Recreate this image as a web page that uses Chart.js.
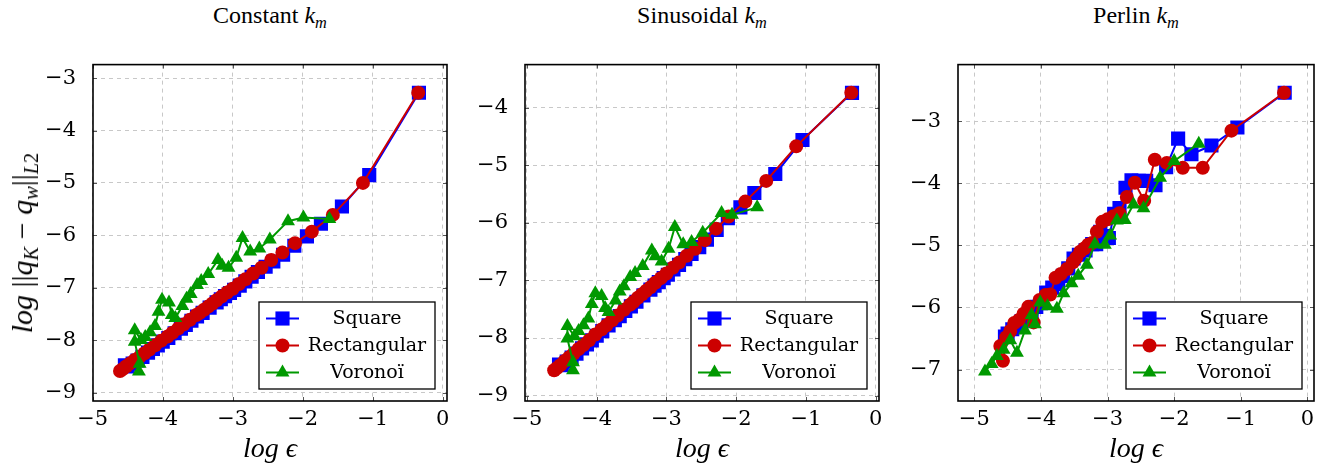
<!DOCTYPE html>
<html>
<head>
<meta charset="utf-8">
<script src="https://cdn.jsdelivr.net/npm/chart.js@4.4.0/dist/chart.umd.min.js"></script>
<style>
    body { margin: 0; background: #fff; width: 1330px; height: 471px; position: relative; overflow: hidden; font-family: "Liberation Serif", serif; color: #000; }
    canvas { position: absolute; }
    .title { position: absolute; top: 2px; font-size: 24px; line-height: 26px; white-space: nowrap; transform: translateX(-50%); }
    .xlab { position: absolute; top: 434px; font-size: 28px; line-height: 28px; font-style: italic; white-space: nowrap; transform: translateX(-50%); }
    .ylab { position: absolute; left: 22px; top: 243px; font-size: 30px; line-height: 30px; white-space: nowrap; transform: translate(-50%, -50%) rotate(-90deg); }
    sub { font-size: 0.68em; vertical-align: -0.3em; line-height: 0; }
</style>
</head>
<body>

<div class="title" style="left:270px">Constant <i>k<sub>m</sub></i></div>
<div class="title" style="left:702px">Sinusoidal <i>k<sub>m</sub></i></div>
<div class="title" style="left:1136px">Perlin <i>k<sub>m</sub></i></div>

<canvas id="chart1" width="436" height="406" style="left:23px;top:35px"></canvas>
<canvas id="chart2" width="436" height="406" style="left:455px;top:35px"></canvas>
<canvas id="chart3" width="438" height="406" style="left:888px;top:35px"></canvas>

<div class="ylab"><i>log</i> ||<i>q<sub>K</sub></i> &minus; <i>q<sub>w</sub></i>||<sub><i>L</i>2</sub></div>
<div class="xlab" style="left:270px">log &#1013;</div>
<div class="xlab" style="left:702px">log &#1013;</div>
<div class="xlab" style="left:1136px">log &#1013;</div>

<script>
// log(eps) of the meshes, shared by the three k_m cases
const squareLogEps = [-0.34, -1.05, -1.44, -1.74, -1.94, -2.12, -2.28, -2.42, -2.53, -2.64, -2.73, -2.82, -2.90, -2.98, -3.04, -3.11, -3.17, -3.23, -3.33, -3.43, -3.51, -3.59, -3.67, -3.74, -3.83, -3.92, -4.00, -4.07, -4.14, -4.21, -4.29, -4.36, -4.43, -4.50, -4.54];
const rectLogEps = [-0.35, -1.14, -1.57, -1.87, -2.11, -2.29, -2.45, -2.59, -2.71, -2.82, -2.91, -3.00, -3.08, -3.16, -3.23, -3.29, -3.35, -3.41, -3.47, -3.52, -3.61, -3.70, -3.78, -3.86, -3.93, -4.02, -4.11, -4.19, -4.26, -4.33, -4.40, -4.46, -4.52, -4.57, -4.61];

// Constant k_m
const constSquareErr = [-3.28, -4.85, -5.45, -5.78, -6.02, -6.20, -6.37, -6.50, -6.60, -6.70, -6.79, -6.88, -6.96, -7.04, -7.10, -7.16, -7.22, -7.28, -7.38, -7.48, -7.55, -7.63, -7.71, -7.78, -7.87, -7.96, -8.03, -8.10, -8.17, -8.24, -8.32, -8.39, -8.45, -8.50, -8.48];
const constRectErr = [-3.28, -5.00, -5.61, -5.93, -6.15, -6.33, -6.47, -6.62, -6.73, -6.84, -6.93, -7.02, -7.09, -7.17, -7.24, -7.30, -7.36, -7.42, -7.48, -7.52, -7.61, -7.70, -7.78, -7.86, -7.93, -8.01, -8.10, -8.18, -8.25, -8.32, -8.38, -8.44, -8.50, -8.55, -8.59];
const constVorLogEps = [-1.62, -1.99, -2.21, -2.47, -2.62, -2.75, -2.86, -2.95, -3.06, -3.15, -3.21, -3.35, -3.45, -3.51, -3.60, -3.66, -3.72, -3.82, -3.87, -3.91, -4.01, -4.06, -4.11, -4.18, -4.25, -4.31, -4.40, -4.40, -4.33, -4.34];
const constVorErr = [-5.69, -5.66, -5.73, -6.08, -6.25, -6.31, -6.05, -6.43, -6.62, -6.58, -6.47, -6.74, -6.87, -6.95, -7.12, -7.21, -7.35, -7.58, -7.52, -7.28, -7.23, -7.46, -7.73, -7.85, -7.94, -8.00, -7.81, -8.03, -8.45, -8.60];

// Sinusoidal k_m
const sinSquareErr = [-3.74, -4.56, -5.15, -5.48, -5.73, -5.92, -6.12, -6.29, -6.42, -6.54, -6.63, -6.73, -6.81, -6.90, -6.96, -7.03, -7.09, -7.16, -7.26, -7.37, -7.45, -7.53, -7.62, -7.69, -7.78, -7.88, -7.96, -8.04, -8.11, -8.18, -8.27, -8.34, -8.41, -8.47, -8.46];
const sinRectErr = [-3.74, -4.67, -5.27, -5.63, -5.89, -6.10, -6.30, -6.45, -6.57, -6.69, -6.78, -6.88, -6.96, -7.04, -7.12, -7.18, -7.24, -7.30, -7.37, -7.42, -7.51, -7.61, -7.69, -7.78, -7.85, -7.94, -8.04, -8.12, -8.19, -8.27, -8.34, -8.40, -8.47, -8.52, -8.56];
const sinVorLogEps = [-1.70, -2.06, -2.21, -2.48, -2.64, -2.76, -2.88, -2.97, -3.07, -3.16, -3.21, -3.34, -3.45, -3.52, -3.61, -3.67, -3.73, -3.83, -3.88, -3.93, -4.02, -4.07, -4.12, -4.19, -4.26, -4.32, -4.42, -4.42, -4.34, -4.34];
const sinVorErr = [-5.73, -5.86, -5.83, -6.17, -6.33, -6.37, -6.07, -6.45, -6.67, -6.58, -6.48, -6.75, -6.87, -6.94, -7.10, -7.19, -7.35, -7.55, -7.48, -7.27, -7.22, -7.41, -7.66, -7.78, -7.88, -7.97, -7.79, -8.01, -8.42, -8.56];

// Perlin k_m
const perlinSquareErr = [-2.54, -3.10, -3.39, -3.53, -3.28, -3.74, -4.03, -3.96, -3.96, -3.95, -4.07, -4.40, -4.49, -4.88, -4.85, -4.78, -4.98, -4.98, -5.08, -5.15, -5.21, -5.37, -5.49, -5.62, -5.68, -5.76, -5.93, -5.99, -6.10, -6.15, -6.22, -6.30, -6.35, -6.42, -6.47];
const perlinRectErr = [-2.54, -3.15, -3.75, -3.75, -3.67, -3.62, -4.28, -3.99, -4.22, -4.48, -4.53, -4.58, -4.62, -4.78, -4.96, -4.99, -5.05, -5.10, -5.20, -5.27, -5.38, -5.46, -5.52, -5.79, -5.80, -5.88, -6.24, -5.99, -6.10, -6.20, -6.25, -6.38, -6.48, -6.86, -6.62];
const perlinVorLogEps = [-1.63, -2.00, -2.21, -2.46, -2.61, -2.74, -2.86, -2.96, -3.04, -3.19, -3.31, -3.44, -3.54, -3.66, -3.76, -3.90, -4.01, -4.09, -4.14, -4.24, -4.36, -4.46, -4.56, -4.66, -4.74, -4.84];
const perlinVorErr = [-3.36, -3.64, -3.91, -4.40, -4.34, -4.59, -4.60, -4.84, -4.99, -4.98, -5.31, -5.49, -5.61, -5.77, -6.02, -5.98, -5.92, -6.27, -6.12, -6.37, -6.73, -6.53, -6.68, -6.78, -6.91, -7.03];

const seriesNames = ["Square", "Rectangular", "Voronoï"];
const xTicks = [-5, -4, -3, -2, -1, 0];
const constYTicks = [-9, -8, -7, -6, -5, -4, -3];
const sinYTicks = [-9, -8, -7, -6, -5, -4];
const perlinYTicks = [-7, -6, -5, -4, -3];

const markStyles = [
    { color: '#0000ff', shape: 'rect', radius: 10 },
    { color: '#cc0000', shape: 'circle', radius: 7 },
    { color: '#009900', shape: 'triangle', radius: 8 }
];

// DejaVu Serif is the serif face the canvas picks up here
const canvasFamily = '"DejaVu Serif"';
const tickFont = { family: canvasFamily, size: 21 };
const legendFont = '19px ' + canvasFamily;

function toPoints(xs, ys) {
    return xs.map((x, i) => ({ x: x, y: ys[i] }));
}

function minusLabel(v) {
    return v < 0 ? '\u2212' + Math.abs(v) : String(v);
}

function drawMark(ctx, shape, r, x, y) {
    ctx.beginPath();
    if (shape === 'rect') {
        const h = r * Math.SQRT1_2;
        ctx.rect(x - h, y - h, 2 * h, 2 * h);
    } else if (shape === 'circle') {
        ctx.arc(x, y, r, 0, Math.PI * 2);
    } else {
        ctx.moveTo(x, y - r);
        ctx.lineTo(x + r * 0.866, y + r / 2);
        ctx.lineTo(x - r * 0.866, y + r / 2);
        ctx.closePath();
    }
    ctx.fill();
}

// box round the plot, small inner ticks and the legend inside the plot
const frameAndLegend = {
    id: 'frameAndLegend',
    afterDatasetsDraw(chart) {
        const ctx = chart.ctx;
        const a = chart.chartArea;
        const sx = chart.scales.x;
        const sy = chart.scales.y;

        ctx.save();
        ctx.strokeStyle = '#555';
        ctx.lineWidth = 1;
        ctx.beginPath();
        sx.ticks.forEach(t => {
            const px = Math.round(sx.getPixelForValue(t.value)) + 0.5;
            ctx.moveTo(px, a.bottom); ctx.lineTo(px, a.bottom - 4);
            ctx.moveTo(px, a.top); ctx.lineTo(px, a.top + 4);
        });
        sy.ticks.forEach(t => {
            const py = Math.round(sy.getPixelForValue(t.value)) + 0.5;
            ctx.moveTo(a.left, py); ctx.lineTo(a.left + 4, py);
            ctx.moveTo(a.right, py); ctx.lineTo(a.right - 4, py);
        });
        ctx.stroke();

        ctx.strokeStyle = '#000';
        ctx.lineWidth = 1.6;
        ctx.strokeRect(a.left, a.top, a.right - a.left, a.bottom - a.top);

        const w = 176, h = 87;
        const left = a.right - 12 - w;
        const top = a.bottom - 12 - h;
        ctx.fillStyle = '#fff';
        ctx.fillRect(left, top, w, h);
        ctx.lineWidth = 1.3;
        ctx.strokeRect(left, top, w, h);

        ctx.font = legendFont;
        ctx.textAlign = 'center';
        ctx.textBaseline = 'middle';
        chart.data.datasets.forEach((ds, i) => {
            const st = markStyles[i];
            const y = top + 16.5 + i * 27;
            ctx.strokeStyle = st.color;
            ctx.lineWidth = 2;
            ctx.beginPath();
            ctx.moveTo(left + 7, y);
            ctx.lineTo(left + 40, y);
            ctx.stroke();
            ctx.fillStyle = st.color;
            drawMark(ctx, st.shape, st.radius, left + 23.5, y);
            ctx.fillStyle = '#000';
            ctx.fillText(ds.label, left + 108, y + 1);
        });
        ctx.restore();
    }
};

function makeChart(canvasId, series, xMin, xMax, yMin, yMax, yTicks) {
    const datasets = series.map((pts, i) => ({
        label: seriesNames[i],
        data: pts,
        showLine: true,
        borderColor: markStyles[i].color,
        backgroundColor: markStyles[i].color,
        borderWidth: 2,
        pointStyle: markStyles[i].shape,
        pointRadius: markStyles[i].radius,
        pointHoverRadius: markStyles[i].radius,
        pointBorderWidth: 0,
        order: 3 - i
    }));

    new Chart(document.getElementById(canvasId), {
        type: 'scatter',
        data: { datasets: datasets },
        options: {
            responsive: false,
            animation: false,
            layout: { padding: { left: 0, top: 10, right: 12, bottom: 0 } },
            plugins: { legend: { display: false }, tooltip: { enabled: false } },
            scales: {
                x: {
                    type: 'linear',
                    min: xMin,
                    max: xMax,
                    afterBuildTicks: s => { s.ticks = xTicks.map(v => ({ value: v })); },
                    afterFit: s => { s.height = 40; },
                    ticks: { font: tickFont, color: '#000', padding: 6, maxRotation: 0, autoSkip: false, callback: minusLabel },
                    grid: { color: '#c8c8c8', lineWidth: 1, drawTicks: false },
                    border: { display: false, dash: [4, 4] }
                },
                y: {
                    type: 'linear',
                    min: yMin,
                    max: yMax,
                    afterBuildTicks: s => { s.ticks = yTicks.map(v => ({ value: v })); },
                    afterFit: s => { s.width = 70; },
                    ticks: { font: tickFont, color: '#000', padding: 17, autoSkip: false, callback: minusLabel },
                    grid: { color: '#c8c8c8', lineWidth: 1, drawTicks: false },
                    border: { display: false, dash: [4, 4] }
                }
            }
        },
        plugins: [frameAndLegend]
    });
}

makeChart('chart1', [
    toPoints(squareLogEps, constSquareErr),
    toPoints(rectLogEps, constRectErr),
    toPoints(constVorLogEps, constVorErr)
], -4.996, 0.061, -9.162, -2.742, constYTicks);

makeChart('chart2', [
    toPoints(squareLogEps, sinSquareErr),
    toPoints(rectLogEps, sinRectErr),
    toPoints(sinVorLogEps, sinVorErr)
], -5.028, 0.047, -9.094, -3.25, sinYTicks);

makeChart('chart3', [
    toPoints(squareLogEps, perlinSquareErr),
    toPoints(rectLogEps, perlinRectErr),
    toPoints(perlinVorLogEps, perlinVorErr)
], -5.245, 0.10, -7.507, -2.086, perlinYTicks);
</script>
</body>
</html>
